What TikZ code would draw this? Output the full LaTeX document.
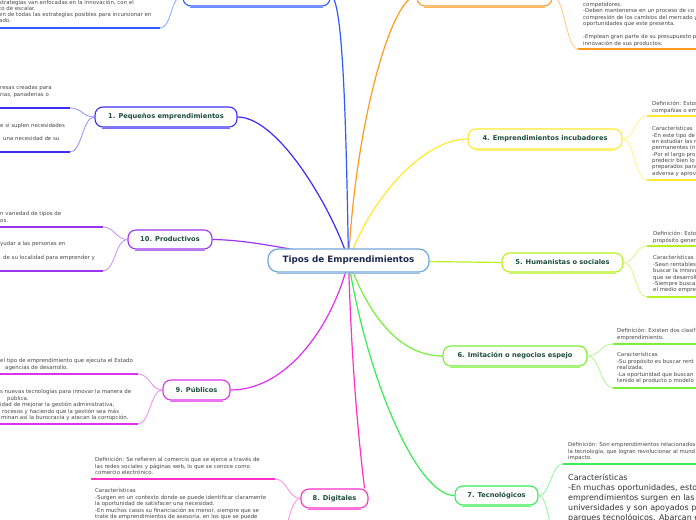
\documentclass[tikz,border=0pt]{standalone}
\usepackage{fontspec}
\setmainfont{DejaVu Sans}
\usetikzlibrary{calc,backgrounds}
\definecolor{cRoot}{HTML}{6FA8DC}
\definecolor{cRootTxt}{HTML}{1B2A4E}
\definecolor{cLbl}{HTML}{1E4D3C}
\definecolor{cLeaf}{HTML}{474747}
\definecolor{cBig}{HTML}{333333}
\definecolor{cBlueA}{HTML}{2E5BFF}
\definecolor{cBlueB}{HTML}{3C2EF5}
\definecolor{cOrange}{HTML}{FF9A1F}
\definecolor{cYellow}{HTML}{FFE92E}
\definecolor{cLime}{HTML}{B5F21E}
\definecolor{cGreenA}{HTML}{79EE37}
\definecolor{cGreenB}{HTML}{36EE55}
\definecolor{cPink}{HTML}{FF2FC8}
\definecolor{cMagenta}{HTML}{DF2FF0}
\definecolor{cPurple}{HTML}{9A35F0}
\newcommand\leaffont{\fontsize{5.45}{6.5}\selectfont}
\newcommand\bigleaffont{\fontsize{8}{10}\selectfont}
\tikzset{
  rootbox/.style={draw=cRoot, fill=white, line width=1.2bp, rounded corners=10bp,
    font=\bfseries\fontsize{8.8}{10}\selectfont, text=cRootTxt,
    minimum width=161bp, minimum height=23bp, inner sep=0pt},
  branch/.style={draw=#1, fill=white, line width=1.1bp, rounded corners=8bp,
    font=\bfseries\fontsize{6.7}{8}\selectfont, text=cLbl, inner sep=0pt},
  mainlink/.style={draw=#1, line width=1.2bp},
  leaflink/.style={draw=#1!55!white, line width=0.8bp},
  uline/.style={draw=#1, line width=2bp},
  leaftext/.style={anchor=base west, inner sep=0pt, font=\leaffont, text=cLeaf},
  bigtext/.style={anchor=base west, inner sep=0pt, font=\bigleaffont, text=cBig},
}
\newcommand\tlines[5]{\foreach \t [count=\i from 0] in {#5} {\node[leaftext] (#1-\i) at (#2, #3+1.8+\i*#4) {\t};}}
\newcommand\blines[5]{\foreach \t [count=\i from 0] in {#5} {\node[bigtext] (#1-\i) at (#2, #3+2.8+\i*#4) {\t};}}
\newcommand\tl[4]{\node[leaftext] (#1) at (#2, #3+1.8) {#4};}
\newcommand\lleaf[3]{\draw[leaflink=#3] (#1) .. controls ($(#1)+(-12,0)$) and ($(#2)+(12,0)$) .. (#2);}
\newcommand\rleaf[3]{\draw[leaflink=#3] (#1) .. controls ($(#1)+(12,0)$) and ($(#2)+(-12,0)$) .. (#2);}
\begin{document}
\begin{tikzpicture}[x=1bp, y=-1bp]
\useasboundingbox (0,0) rectangle (696,520);
\clip (0,0) rectangle (696,520);

% nodes
\node[rootbox] (root) at (348.5,260.5) {Tipos de Emprendimientos};
\node[branch=cBlueA, minimum width=147bp, minimum height=20bp] (n2) at (256.5,-4) {};
\node[branch=cOrange, minimum width=135bp, minimum height=20bp] (n3) at (484.5,-4) {};
\node[branch=cBlueB, minimum width=142bp, minimum height=20bp] (n1) at (166,117) {1. Pequeños emprendimientos};
\node[branch=cYellow, minimum width=154bp, minimum height=20bp] (n4) at (545,139) {4. Emprendimientos incubadores};
\node[branch=cLime, minimum width=121bp, minimum height=19bp] (n5) at (562.5,262.5) {5. Humanistas o sociales};
\node[branch=cGreenA, minimum width=144bp, minimum height=20bp] (n6) at (515,356) {6. Imitación o negocios espejo};
\node[branch=cGreenB, minimum width=83bp, minimum height=19bp] (n7) at (496.5,495.5) {7. Tecnológicos};
\node[branch=cPink, minimum width=67bp, minimum height=19bp] (n8) at (334.5,498.5) {8. Digitales};
\node[branch=cMagenta, minimum width=67bp, minimum height=20bp] (n9) at (196.5,390) {9. Públicos};
\node[branch=cPurple, minimum width=84bp, minimum height=19bp] (n10) at (170,239.5) {10. Productivos};

\foreach \n/\c in {n1/cBlueB,n2/cBlueA,n3/cOrange,n4/cYellow,n5/cLime,n6/cGreenA,n7/cGreenB,n8/cPink,n9/cMagenta,n10/cPurple}
  \draw[\c!70!white, line width=1.4bp] ($(\n.south west)+(8,0.7)$) -- ($(\n.south east)+(-8,0.7)$);
\draw[cRoot!70!white, line width=1.4bp] ($(root.south west)+(10,0.7)$) -- ($(root.south east)+(-10,0.7)$);

% main connectors
\begin{scope}[on background layer]
\fill[white] (0,0) rectangle (696,520);
\draw[mainlink=cBlueA] (root.center) .. controls (346,120) and (343,-4) .. (n2.east);
\draw[mainlink=cBlueB] (root.center) .. controls (335,215) and (280,117) .. (n1.east);
\draw[mainlink=cOrange] (root.center) .. controls (356,120) and (392,-4) .. (n3.west);
\draw[mainlink=cYellow] (root.center) .. controls (372,195) and (425,139) .. (n4.west);
\draw[mainlink=cLime] (root.center) -- (n5.west);
\draw[mainlink=cGreenA] (root.center) .. controls (372,325) and (405,356) .. (n6.west);
\draw[mainlink=cGreenB] (root.center) .. controls (365,370) and (415,495) .. (n7.west);
\draw[mainlink=cPink] (root.center) .. controls (352,380) and (360,450) .. ([xshift=-4bp]n8.north east);
\draw[mainlink=cMagenta] (root.center) .. controls (335,320) and (290,390) .. (n9.east);
\draw[mainlink=cPurple] (root.center) .. controls (295,250) and (250,240) .. (n10.east);
\end{scope}

% leaf anchor coordinates
\coordinate (u2a) at (160,28);   \coordinate (e2a) at (-5,28);
\coordinate (u1a) at (70,108);   \coordinate (e1a) at (-5,108);
\coordinate (u1b) at (70,152);   \coordinate (e1b) at (-5,152);
\coordinate (u10a) at (103,227); \coordinate (e10a) at (-5,227);
\coordinate (u10b) at (103,271); \coordinate (e10b) at (-5,271);
\coordinate (u9a) at (138,374);  \coordinate (e9a) at (-5,374);
\coordinate (u9b) at (138,424);  \coordinate (e9b) at (-5,424);
\coordinate (u8a) at (275,479);  \coordinate (e8a) at (91,479);
\coordinate (u8b) at (275,545);  \coordinate (e8b) at (91,545);
\coordinate (u3a) at (578,49);   \coordinate (e3a) at (700,49);
\coordinate (u4a) at (647,116);  \coordinate (e4a) at (700,116);
\coordinate (u4b) at (647,180);  \coordinate (e4b) at (700,180);
\coordinate (u5a) at (647,246);  \coordinate (e5a) at (700,246);
\coordinate (u5b) at (647,297);  \coordinate (e5b) at (700,297);
\coordinate (u6a) at (613,344);  \coordinate (e6a) at (700,344);
\coordinate (u6b) at (613,388);  \coordinate (e6b) at (700,388);
\coordinate (u7a) at (563,464);  \coordinate (e7a) at (700,464);
\coordinate (u7b) at (563,560);  \coordinate (e7b) at (700,560);

% leaf connectors
\lleaf{n2.west}{u2a}{cBlueA}
\lleaf{n1.west}{u1a}{cBlueB} \lleaf{n1.west}{u1b}{cBlueB}
\lleaf{n10.west}{u10a}{cPurple} \lleaf{n10.west}{u10b}{cPurple}
\lleaf{n9.west}{u9a}{cMagenta} \lleaf{n9.west}{u9b}{cMagenta}
\lleaf{n8.west}{u8a}{cPink} \lleaf{n8.west}{u8b}{cPink}
\rleaf{n3.east}{u3a}{cOrange}
\rleaf{n4.east}{u4a}{cYellow} \rleaf{n4.east}{u4b}{cYellow}
\rleaf{n5.east}{u5a}{cLime} \rleaf{n5.east}{u5b}{cLime}
\rleaf{n6.east}{u6a}{cGreenA} \rleaf{n6.east}{u6b}{cGreenA}
\rleaf{n7.east}{u7a}{cGreenB} \rleaf{n7.east}{u7b}{cGreenB}

% underlines
\draw[uline=cBlueA] (u2a) -- (e2a);
\draw[uline=cBlueB] (u1a) -- (e1a); \draw[uline=cBlueB] (u1b) -- (e1b);
\draw[uline=cPurple] (u10a) -- (e10a); \draw[uline=cPurple] (u10b) -- (e10b);
\draw[uline=cMagenta] (u9a) -- (e9a); \draw[uline=cMagenta] (u9b) -- (e9b);
\draw[uline=cPink] (u8a) -- (e8a); \draw[uline=cPink] (u8b) -- (e8b);
\draw[uline=cOrange] (u3a) -- (e3a);
\draw[uline=cYellow] (u4a) -- (e4a); \draw[uline=cYellow] (u4b) -- (e4b);
\draw[uline=cLime] (u5a) -- (e5a); \draw[uline=cLime] (u5b) -- (e5b);
\draw[uline=cGreenA] (u6a) -- (e6a); \draw[uline=cGreenA] (u6b) -- (e6b);
\draw[uline=cGreenB] (u7a) -- (e7a); \draw[uline=cGreenB] (u7b) -- (e7b);

% leaf texts
\tlines{t2}{-1}{2.3}{6.3}{{strategias van enfocadas en la innovación, con el},{to de escalar.},{en de todas las estrategias posibles para incursionar en},{ado.}}
\tlines{t1a}{0}{87.3}{7.7}{{resas creadas para},{rias, panaderias o}}
\tl{t1b}{0}{126}{e si suplen necesidades}
\tl{t1c}{3}{139}{una necesidad de su}
\tlines{t10a}{0}{214}{6.5}{{n variedad de tipos de},{os.}}
\tl{t10b}{0}{244}{yudar a las personas en}
\tl{t10c}{3}{258}{de su localidad para emprender y}
\tl{t9a}{0}{361}{el tipo de emprendimiento que ejecuta el Estado}
\tl{t9b}{5}{368}{agencias de desarrollo.}
\tl{t9c}{0}{392}{s nuevas tecnologías para innovar la manera de}
\tl{t9d}{7}{398.5}{pública.}
\tl{t9e}{0}{405}{idad de mejorar la gestión administrativa,}
\tl{t9f}{2}{411.5}{rocesos y haciendo que la gestión sea más}
\tl{t9g}{1}{418}{minan así la burocracia y atacan la corrupción.}
\tlines{t3a}{583}{4.7}{6.5}{{competidores.},{-Deben mantenerse en un proceso de co},{compresión de los cambios del mercado y},{oportunidades que este presenta.}}
\tlines{t3b}{583}{37}{6.3}{{-Emplean gran parte de su presupuesto p},{innovación de sus productos.}}
\tlines{t4a}{652}{104}{6.5}{{Definición: Estos},{compañías o em}}
\tlines{t4b}{652}{129}{6.35}{{Características},{-En este tipo de},{en estudiar las n},{permanentes (n},{-Por el largo pro},{predecir bien lo},{preparados para},{adversa y aprov}}
\tlines{t5a}{653}{234}{6.5}{{Definición: Esto},{propósito gener}}
\tlines{t5b}{653}{258}{6.4}{{Características},{-Sean rentables},{buscar la innova},{que se desarroll},{-Siempre busca},{el medio empre}}
\tlines{t6a}{617}{331}{6.5}{{Definición: Existen dos clasif},{emprendimiento.}}
\tlines{t6b}{617}{355}{6.5}{{Características},{-Su propósito es buscar rent},{realizada.},{-La oportunidad que buscan},{tenido el producto o modelo}}
\tlines{t7a}{568}{445}{6.5}{{Definición: Son emprendimientos relacionados},{la tecnología, que logran revolucionar al mund},{impacto.}}
\blines{t7b}{568}{478}{10}{{Características},{-En muchas oportunidades, esto},{emprendimientos surgen en las},{universidades y son apoyados p},{parques tecnológicos. Abarcan e}}
\tlines{t8a}{95}{460}{6.5}{{Definición: Se refieren al comercio que se ejerce a través de},{las redes sociales y páginas web, lo que se conoce como},{comercio electrónico.}}
\tlines{t8b}{95}{491}{6.5}{{Características},{-Surgen en un contexto donde se puede identificar claramente},{la oportunidad de satisfacer una necesidad.},{-En muchos casos su financiación es menor, siempre que se},{trate de emprendimientos de asesoría, en los que se puede}}
\end{tikzpicture}
\end{document}
